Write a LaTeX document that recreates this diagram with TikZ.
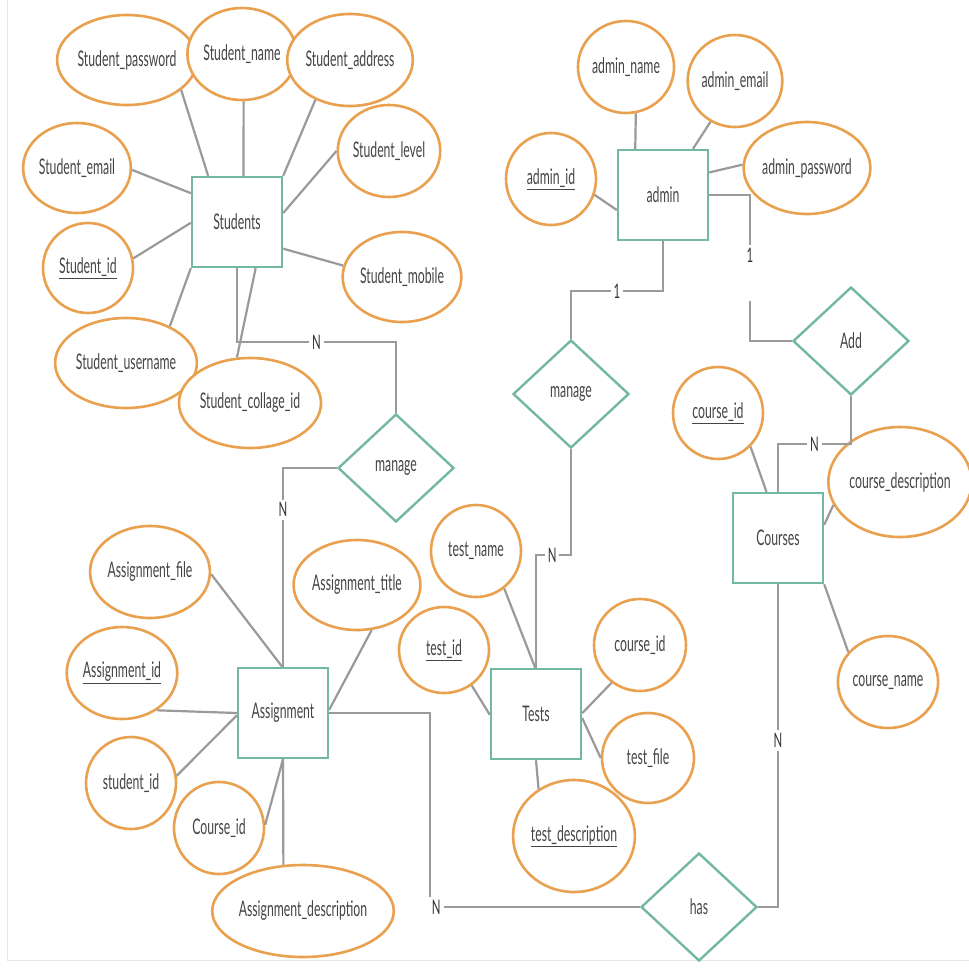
\documentclass[tikz,border=0pt]{standalone}
\usepackage{fontspec}
\setmainfont[FakeStretch=0.57]{Lato}
\usetikzlibrary{shapes.geometric}
\definecolor{orn}{HTML}{E9A14F}
\definecolor{tea}{HTML}{72B8A2}
\definecolor{lin}{HTML}{9A9A9A}
\definecolor{txt}{HTML}{454545}
\definecolor{edge}{HTML}{E6E6E6}
\begin{document}
\begin{tikzpicture}[x=1pt,y=-1pt,
  lbl/.style={text=txt,font=\fontsize{21.5}{24}\selectfont},
  attr/.style={ellipse,draw=orn,line width=2.6pt,fill=white,inner sep=0pt,lbl},
  ent/.style={rectangle,draw=tea,line width=2.4pt,fill=white,minimum width=90pt,minimum height=90pt,lbl},
  rel/.style={diamond,draw=tea,line width=2.4pt,fill=white,minimum width=116pt,minimum height=108pt,inner sep=0pt,lbl},
  conn/.style={draw=lin,line width=2.2pt},
  card/.style={fill=white,inner sep=3pt,text=black!80,font=\fontsize{20}{22}\selectfont}]
\useasboundingbox (0,0) rectangle (969,967);
\fill[white] (0,0) rectangle (969,967);
\draw[edge,line width=1pt] (7,0) -- (7,960) -- (969,960);
% ---------- entities ----------
\node[ent] (S) at (237,222) {Students};
\node[ent] (AD) at (663,195) {admin};
\node[ent] (A) at (283,713) {Assignment};
\node[ent] (T) at (536,714) {Tests};
\node[ent] (C) at (778,538) {Courses};
% ---------- relationships ----------
\node[rel] (ML) at (396,468) {manage};
\node[rel] (MM) at (571,394) {manage};
\node[rel] (ADD) at (851,341) {Add};
\node[rel] (H) at (699,907) {has};
% ---------- Students attributes ----------
\node[attr,minimum width=120pt,minimum height=90pt] (spw) at (127,60) {Student\_password};
\node[attr,minimum width=96pt,minimum height=92pt] (sna) at (242,54) {Student\_name};
\node[attr,minimum width=104pt,minimum height=92pt] (sad) at (350,60) {Student\_address};
\node[attr,minimum width=92pt,minimum height=92pt] (sle) at (389,151) {Student\_level};
\node[attr,minimum width=94pt,minimum height=90pt] (sem) at (77,168) {Student\_email};
\node[attr,minimum width=90pt,minimum height=90pt] (sid) at (88,268) {\underline{Student\_id}};
\node[attr,minimum width=106pt,minimum height=90pt] (smo) at (402,277) {Student\_mobile};
\node[attr,minimum width=120pt,minimum height=90pt] (sus) at (126,363) {Student\_username};
\node[attr,minimum width=126pt,minimum height=90pt] (sco) at (250,403) {Student\_collage\_id};
% ---------- admin attributes ----------
\node[attr,minimum width=90pt,minimum height=92pt] (ana) at (626,67) {admin\_name};
\node[attr,minimum width=90pt,minimum height=92pt] (aem) at (735,81) {admin\_email};
\node[attr,minimum width=114pt,minimum height=92pt] (apw) at (807,168) {admin\_password};
\node[attr,minimum width=90pt,minimum height=92pt] (aid) at (551,179) {\underline{admin\_id}};
% ---------- Assignment attributes ----------
\node[attr,minimum width=106pt,minimum height=92pt] (afi) at (150,572) {Assignment\_file};
\node[attr,minimum width=110pt,minimum height=90pt] (ati) at (357,585) {Assignment\_title};
\node[attr,minimum width=100pt,minimum height=92pt] (aai) at (122,673) {\underline{Assignment\_id}};
\node[attr,minimum width=90pt,minimum height=92pt] (asi) at (131,783) {student\_id};
\node[attr,minimum width=90pt,minimum height=92pt] (aci) at (219,828) {Course\_id};
\node[attr,minimum width=150pt,minimum height=92pt] (ade) at (303,911) {Assignment\_description};
% ---------- Tests attributes ----------
\node[attr,minimum width=90pt,minimum height=92pt] (tna) at (476,551) {test\_name};
\node[attr,minimum width=90pt,minimum height=86pt] (tid) at (444,650) {\underline{test\_id}};
\node[attr,minimum width=92pt,minimum height=92pt] (tci) at (640,645) {course\_id};
\node[attr,minimum width=92pt,minimum height=90pt] (tfi) at (648,758) {test\_file};
\node[attr,minimum width=114pt,minimum height=112pt] (tde) at (574,836) {\underline{test\_description}};
% ---------- Courses attributes ----------
\node[attr,minimum width=90pt,minimum height=92pt] (cid) at (718,413) {\underline{course\_id}};
\node[attr,minimum width=124pt,minimum height=110pt] (cde) at (900,482) {course\_description};
\node[attr,minimum width=94pt,minimum height=92pt] (cna) at (888,682) {course\_name};
% ---------- attribute connectors ----------
\draw[conn] (spw.331) -- (S.122);
\draw[conn] (sna.272) -- (S.82);
\draw[conn] (sad.229) -- (S.north east);
\draw[conn] (sle.180) -- (S.11);
\draw[conn] (sem.358) -- (S.148);
\draw[conn] (sid.12) -- (S.181);
\draw[conn] (smo.169) -- (S.330);
\draw[conn] (sus.40) -- (S.south west);
\draw[conn] (sco.106) -- (S.292);
\draw[conn] (ana.282) -- (AD.121);
\draw[conn] (aem.239) -- (AD.57);
\draw[conn] (apw.177) -- (AD.26);
\draw[conn] (aid.340) -- (AD.198);
\draw[conn] (afi.358) -- (A.91);
\draw[conn] (ati.288) -- (A.4);
\draw[conn] (aai.313) -- (A.180);
\draw[conn] (asi.9) -- (A.183);
\draw[conn] (aci.4) -- (A.270);
\draw[conn] (ade.113) -- (A.270);
\draw[conn] (tna.307) -- (T.91);
\draw[conn] (tid.308) -- (T.181);
\draw[conn] (tci.233) -- (T.1);
\draw[conn] (tfi.180) -- (T.355);
\draw[conn] (tde.127) -- (T.270);
\draw[conn] (cid.314) -- (C.104);
\draw[conn] (cde.199) -- (C.16);
\draw[conn] (cna.143) -- (C.south east);
% ---------- relationship connectors ----------
\coordinate (c1) at (430,907);
\coordinate (c2) at (851,444);
\coordinate (c3) at (571,555);
\coordinate (c4) at (663,291);
\coordinate (c5) at (750,195);
\coordinate (c6) at (237,342);
\draw[conn] (S.south) -- (c6) -| node[card,pos=0.25] {N} (ML.north);
\draw[conn] (ML.west) -| node[card,pos=0.605] {N} (A.north);
\draw[conn] (AD.south) -- (c4) -| node[card,pos=0.25] {1} (MM.north);
\draw[conn] (MM.south) -- (c3) -| node[card,pos=0.27] {N} (T.north);
\draw[conn] (AD.east) -- (c5) |- node[card,pos=0.205] {1}
  node[pos=0.3,fill=white,inner sep=0pt,minimum width=8pt,minimum height=36pt] {} (ADD.west);
\draw[conn] (C.north) |- node[card,pos=0.75] {N} (c2) -- (ADD.south);
\draw[conn] (A.east) -| (c1) -- node[card,pos=0.03] {N} (H.west);
\draw[conn] (H.east) -| node[card,pos=0.758] {N} (C.south);
\end{tikzpicture}
\end{document}
